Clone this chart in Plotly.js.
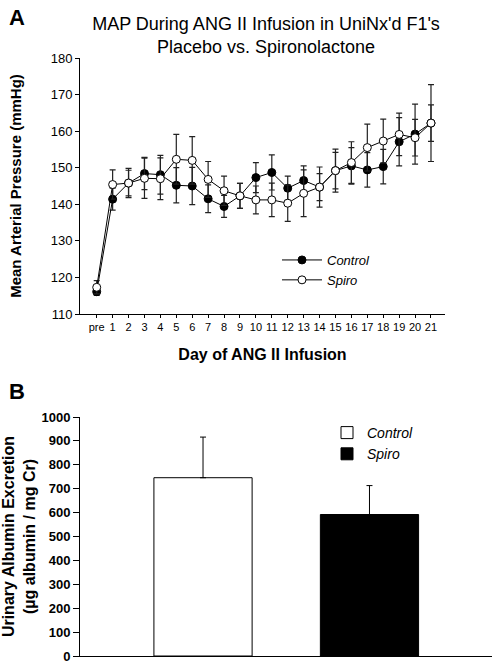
<!DOCTYPE html>
<html><head><meta charset="utf-8">
<script src="https://cdn.plot.ly/plotly-3.0.1.min.js"></script>
<style>html,body{margin:0;padding:0;background:#fff}</style>
</head><body><div id="chart" style="width:494px;height:664px"></div>
<script>
const days = ['pre','1','2','3','4','5','6','7','8','9','10','11','12','13','14','15','16','17','18','19','20','21'];
const controlMAP = [116.1,141.4,145.8,148.4,148.1,145.2,145.0,141.5,139.4,142.3,147.3,148.7,144.4,146.5,144.7,149.2,150.5,149.4,150.3,157.1,159.2,162.2];
const controlSE  = [1.0,3.0,4.0,4.4,5.3,4.8,5.1,3.8,3.0,3.4,4.1,4.8,3.3,4.0,3.7,5.9,5.0,4.7,4.7,6.6,8.2,5.0];
const spiroMAP   = [117.3,145.4,145.8,147.1,147.0,152.3,152.0,146.8,143.7,142.3,141.2,141.2,140.3,143.0,144.7,149.2,151.4,155.5,157.3,159.1,158.2,162.2];
const spiroSE    = [1.8,4.0,3.5,5.5,5.7,6.8,6.5,4.9,4.0,3.4,3.8,4.6,5.0,6.4,5.5,5.0,5.7,6.4,6.0,5.8,5.0,10.5];
const groups = ['Control','Spiro'];
const albumin = [746, 592];
const albuminSE = [170, 121];

const FONT = 'Liberation Sans, Arial, sans-serif';
const idx = days.map((d,i)=>i);

const errStyle = arr => ({type:'data', array:arr, visible:true, color:'#222', thickness:1.2, width:3});

const traces = [
  {x: idx, y: controlMAP, name:'Control', type:'scatter', mode:'lines+markers',
   line:{color:'#000', width:1}, marker:{symbol:'circle', size:8, color:'#000', line:{color:'#000', width:1}},
   error_y: errStyle(controlSE), xaxis:'x', yaxis:'y', legend:'legend'},
  {x: idx, y: spiroMAP, name:'Spiro', type:'scatter', mode:'lines+markers',
   line:{color:'#000', width:1}, marker:{symbol:'circle', size:8, color:'#fff', line:{color:'#000', width:1}},
   error_y: errStyle(spiroSE), xaxis:'x', yaxis:'y', legend:'legend'},
  {x: [groups[0]], y: [albumin[0]], name: groups[0], type:'bar', width:0.59,
   marker:{color:'#fff', line:{color:'#000', width:1}},
   error_y: {type:'data', array:[albuminSE[0]], arrayminus:[0], visible:true, color:'#000', thickness:1, width:3},
   xaxis:'x2', yaxis:'y2', legend:'legend2'},
  {x: [groups[1]], y: [albumin[1]], name: groups[1], type:'bar', width:0.59,
   marker:{color:'#000', line:{color:'#000', width:1}},
   error_y: {type:'data', array:[albuminSE[1]], arrayminus:[0], visible:true, color:'#000', thickness:1, width:3},
   xaxis:'x2', yaxis:'y2', legend:'legend2'}
];

const layout = {
  width:494, height:664, margin:{l:0,r:0,t:0,b:0},
  paper_bgcolor:'#fff', plot_bgcolor:'rgba(0,0,0,0)',
  font:{family:FONT, color:'#000'},
  barmode:'overlay',
  title:{text:"MAP During ANG II Infusion in UniNx'd F1's<br>Placebo vs. Spironolactone",
         font:{family:FONT, size:18, color:'#000'}, x:266/494, xanchor:'center', y:1-30/664, yanchor:'top'},
  xaxis:{domain:[80/494, 445/494], anchor:'y', range:[-1.05, 21.88],
         tickmode:'array', tickvals:idx, ticktext:days, ticks:'outside', ticklen:3, tickcolor:'#000',
         showline:true, linecolor:'#000', linewidth:1, showgrid:false, zeroline:false,
         tickfont:{size:11, family:FONT},
         title:{text:'<b>Day of ANG II Infusion</b>', font:{size:16, family:FONT}, standoff:16}},
  yaxis:{domain:[1-314/664, 1-58/664], anchor:'x', range:[110,180], dtick:10,
         ticks:'outside', ticklen:4, tickcolor:'#000',
         showline:true, linecolor:'#000', linewidth:1, showgrid:false, zeroline:false,
         tickfont:{size:13, family:FONT},
         title:{text:'<b>Mean Arterial Pressure (mmHg)</b>', font:{size:15, family:FONT}, standoff:25}},
  xaxis2:{domain:[80/494, 492/494], anchor:'y2', type:'category', range:[-0.739, 1.736],
          showticklabels:false, ticks:'', showline:true, linecolor:'#000', linewidth:1,
          showgrid:false, zeroline:false},
  yaxis2:{domain:[1-656/664, 1-417/664], anchor:'x2', range:[0,1000], dtick:100,
          ticks:'outside', ticklen:6, tickcolor:'#000',
          showline:true, linecolor:'#000', linewidth:1, showgrid:false, zeroline:false,
          tickfont:{size:13, family:FONT, weight:'bold'},
          title:{text:'<b>Urinary Albumin Excretion<br>(µg albumin / mg Cr)</b>', font:{size:16, family:FONT}, standoff:12}},
  legend:{x:277/494, y:1-245/664, xanchor:'left', yanchor:'top', bgcolor:'rgba(0,0,0,0)',
          font:{size:13, family:FONT, style:'italic'}, tracegroupgap:0, traceorder:'normal', itemwidth:40},
  legend2:{x:327/494, y:1-417/664, xanchor:'left', yanchor:'top', bgcolor:'rgba(0,0,0,0)',
          font:{size:14, family:FONT, style:'italic'}, tracegroupgap:0, traceorder:'normal'},
  showlegend:true,
  annotations:[
    {text:'<b>A</b>', xref:'paper', yref:'paper', x:7/494, y:1-3/664, xanchor:'left', yanchor:'top',
     showarrow:false, font:{size:22, family:FONT}},
    {text:'<b>B</b>', xref:'paper', yref:'paper', x:7/494, y:1-377/664, xanchor:'left', yanchor:'top',
     showarrow:false, font:{size:22, family:FONT}}
  ]
};

Plotly.newPlot('chart', traces, layout, {displayModeBar:false, staticPlot:true});
</script>
</body></html>
